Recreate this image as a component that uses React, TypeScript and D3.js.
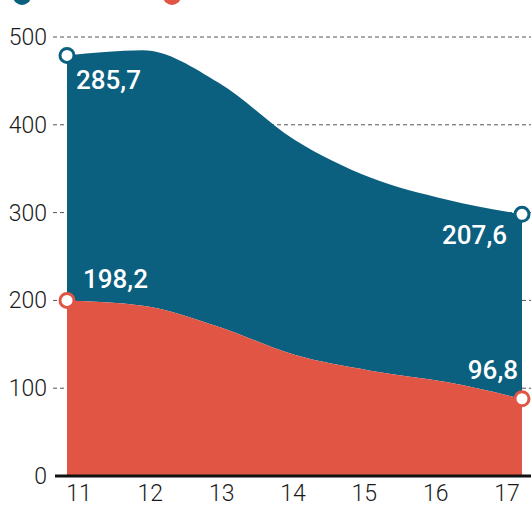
import React from "react";
import * as d3 from "d3";

// years on the x axis (two-digit labels)
const years = ["11", "12", "13", "14", "15", "16", "17"];
// bottom series (red)
const redValues = [200, 194, 170, 138, 120, 107, 88];
// top series (blue), stacked on red
const blueValues = [279, 291, 278, 245, 220, 208, 210];
const yTicks = [0, 100, 200, 300, 400, 500];

const BLUE = "#0b6080";
const RED = "#e15545";

export default function App() {
  const width = 531;
  const height = 506;

  const x = d3.scalePoint<string>().domain(years).range([67, 522]);
  const xLabel = d3.scalePoint<string>().domain(years).range([79, 507]);
  const y = d3.scaleLinear().domain([0, 500]).range([476, 37]);

  const rows = years.map((yr, i) => ({ yr, red: redValues[i], blue: blueValues[i] }));
  const stacked = d3.stack<any>().keys(["red", "blue"])(rows);

  const area = d3
    .area<any>()
    .x((d) => x(d.data.yr)!)
    .y0((d) => y(d[0]))
    .y1((d) => y(d[1]))
    .curve(d3.curveMonotoneX);

  const first = 0;
  const last = years.length - 1;
  const redTop = stacked[0];
  const blueTop = stacked[1];

  const markers = [
    { cx: x(years[first])!, cy: y(blueTop[first][1]), color: BLUE },
    { cx: x(years[last])!, cy: y(blueTop[last][1]), color: BLUE },
    { cx: x(years[first])!, cy: y(redTop[first][1]), color: RED },
    { cx: x(years[last])!, cy: y(redTop[last][1]), color: RED },
  ];

  const labelStyle = {
    fill: "#fff",
    fontFamily: "Roboto, sans-serif",
    fontWeight: 500,
    fontSize: 26,
  } as const;

  return (
    <svg
      width={width}
      height={height}
      style={{ position: "absolute", left: 0, top: 0, background: "#fff" }}
    >
      {/* partially visible legend markers */}
      <circle cx={22} cy={-4} r={9} fill={BLUE} />
      <circle cx={172} cy={-4} r={9} fill={RED} />

      {/* gridlines */}
      {yTicks.filter((t) => t > 0).map((t) => (
        <line
          key={t}
          x1={53}
          x2={width}
          y1={y(t)}
          y2={y(t)}
          stroke="#555"
          strokeWidth={1}
          strokeDasharray="4 3"
        />
      ))}

      {/* y tick labels */}
      {yTicks.map((t) => (
        <text
          key={t}
          x={47}
          y={y(t)}
          dy="0.35em"
          textAnchor="end"
          fontFamily="Roboto, sans-serif"
          fontWeight={300}
          fontSize={23}
          fill="#1a1a1a"
        >
          {t}
        </text>
      ))}

      {/* stacked areas */}
      <path d={area(blueTop)!} fill={BLUE} />
      <path d={area(redTop)!} fill={RED} />

      {/* baseline */}
      <line x1={55} x2={width} y1={y(0)} y2={y(0)} stroke="#111" strokeWidth={3} />

      {/* x tick labels */}
      {years.map((yr) => (
        <text
          key={yr}
          x={xLabel(yr)}
          y={501}
          textAnchor="middle"
          fontFamily="Roboto, sans-serif"
          fontWeight={300}
          fontSize={23}
          fill="#1a1a1a"
        >
          {yr}
        </text>
      ))}

      {/* end markers */}
      {markers.map((m, i) => (
        <circle key={i} cx={m.cx} cy={m.cy} r={7} fill="#fff" stroke={m.color} strokeWidth={3} />
      ))}

      {/* value labels */}
      <text x={markers[0].cx + 9} y={markers[0].cy + 34} {...labelStyle}>285,7</text>
      <text x={markers[1].cx - 15} y={markers[1].cy + 30} textAnchor="end" {...labelStyle}>207,6</text>
      <text x={markers[2].cx + 16} y={markers[2].cy - 12} {...labelStyle}>198,2</text>
      <text x={markers[3].cx - 4} y={markers[3].cy - 20} textAnchor="end" {...labelStyle}>96,8</text>
    </svg>
  );
}
